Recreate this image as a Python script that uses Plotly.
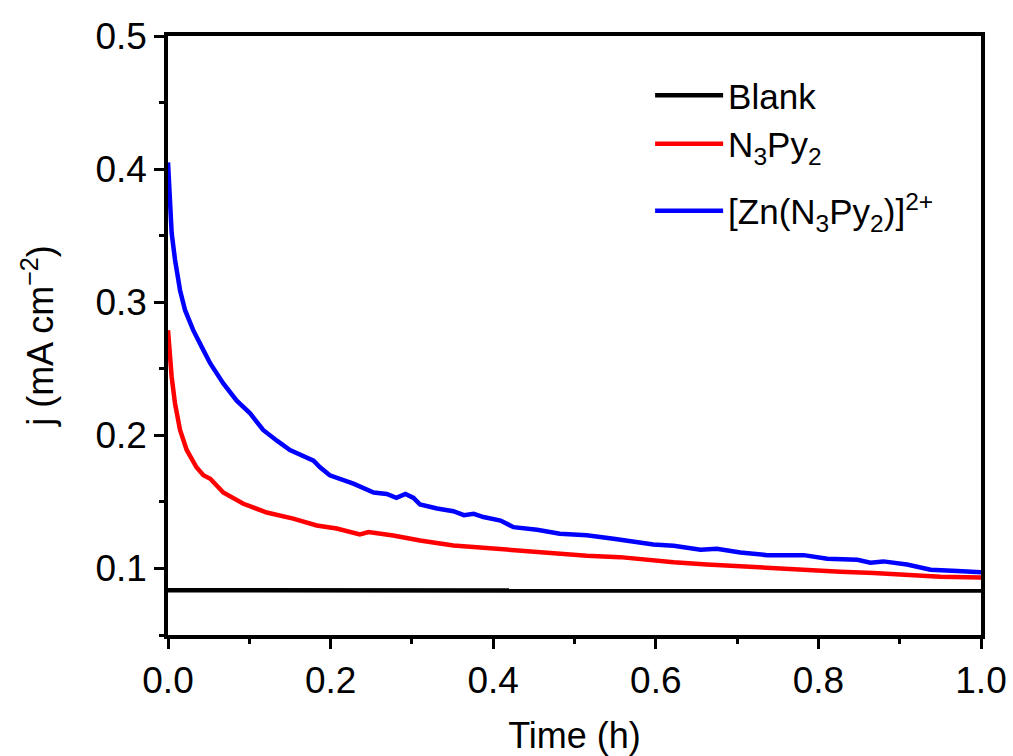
import plotly.graph_objects as go

# ---- data ----
blank_t = [0.0, 0.25, 0.5, 0.75, 1.0]
blank_j = [0.0836, 0.0835, 0.0835, 0.0834, 0.0834]

n3py2_t = [0.0, 0.0045, 0.0086, 0.0148, 0.023, 0.035, 0.0435, 0.052, 0.068, 0.0927,
           0.1215, 0.154, 0.183, 0.2075, 0.236, 0.2466, 0.277, 0.310, 0.351, 0.392,
           0.433, 0.474, 0.515, 0.556, 0.597, 0.622, 0.663, 0.704, 0.745, 0.786,
           0.827, 0.868, 0.909, 0.950, 1.0]
n3py2_j = [0.279, 0.244, 0.224, 0.204, 0.189, 0.176, 0.170, 0.1674, 0.157, 0.1486,
           0.142, 0.1374, 0.1323, 0.130, 0.1256, 0.1273, 0.1248, 0.121, 0.1173, 0.1153,
           0.113, 0.111, 0.1095, 0.1085, 0.106, 0.1047, 0.103, 0.1015, 0.0998, 0.0985,
           0.0975, 0.0965, 0.0953, 0.0937, 0.0932]

zn_t = [0.0, 0.0045, 0.0086, 0.0148, 0.021, 0.031, 0.0435, 0.052, 0.068, 0.0845,
        0.101, 0.117, 0.134, 0.150, 0.179, 0.187, 0.199, 0.228, 0.253, 0.269,
        0.281, 0.292, 0.302, 0.310, 0.331, 0.351, 0.364, 0.376, 0.388, 0.409,
        0.425, 0.454, 0.482, 0.515, 0.548, 0.575, 0.597, 0.622, 0.655, 0.675,
        0.704, 0.737, 0.782, 0.811, 0.848, 0.864, 0.880, 0.909, 0.938, 0.971, 1.0]
zn_j = [0.405, 0.352, 0.332, 0.309, 0.294, 0.279, 0.264, 0.254, 0.239, 0.226,
        0.2165, 0.204, 0.196, 0.189, 0.181, 0.176, 0.170, 0.1637, 0.157, 0.156,
        0.153, 0.156, 0.153, 0.148, 0.145, 0.143, 0.140, 0.141, 0.1386, 0.136,
        0.131, 0.129, 0.126, 0.125, 0.1223, 0.1195, 0.118, 0.117, 0.114, 0.1148,
        0.112, 0.110, 0.110, 0.1073, 0.1065, 0.1043, 0.1053, 0.103, 0.099, 0.098, 0.0972]

series_names = ["Blank", "N<sub>3</sub>Py<sub>2</sub>",
                "[Zn(N<sub>3</sub>Py<sub>2</sub>)]<sup>2+</sup>"]
series_colors = ["#000000", "#FF0000", "#0000FF"]
series_legends = ["legend", "legend", "legend2"]

FONT = "Arial, Liberation Sans, sans-serif"

fig = go.Figure()
for t, j, name, col, lg in zip([blank_t, n3py2_t, zn_t], [blank_j, n3py2_j, zn_j],
                               series_names, series_colors, series_legends):
    fig.add_trace(go.Scatter(x=t, y=j, mode="lines", name=name, legend=lg,
                             line=dict(color=col, width=4.5)))

axis_common = dict(
    showline=True, linecolor="black", linewidth=3.5, mirror=True,
    ticks="outside", ticklen=10, tickwidth=3, tickcolor="black",
    showgrid=False, zeroline=False, automargin=False,
    tickfont=dict(family=FONT, size=37, color="black"),
    minor=dict(ticks="outside", ticklen=5, tickwidth=3, tickcolor="black", showgrid=False),
)

fig.update_xaxes(range=[0, 1.0], tick0=0, dtick=0.2, tickformat=".1f",
                 minor_dtick=0.1,
                 title=dict(text="Time (h)", font=dict(family=FONT, size=36, color="black"),
                            standoff=28),
                 **axis_common)
fig.update_yaxes(range=[0.05, 0.5], tick0=0.1, dtick=0.1, tickformat=".1f",
                 minor_dtick=0.05, minor_tick0=0.05,
                 title=dict(text="j (mA cm<sup>\u22122</sup>)",
                            font=dict(family=FONT, size=36, color="black"),
                            standoff=32),
                 **axis_common)

legend_style = dict(xanchor="left", yanchor="top", bgcolor="rgba(0,0,0,0)",
                    font=dict(family=FONT, size=35, color="black"),
                    tracegroupgap=0, itemwidth=68)

fig.update_layout(
    width=1013, height=756,
    margin=dict(l=168, r=32, t=36, b=121),
    plot_bgcolor="white", paper_bgcolor="white",
    font=dict(family=FONT, color="black"),
    legend=dict(x=0.593, y=0.95, **legend_style),
    legend2=dict(x=0.593, y=0.757, **legend_style),
    showlegend=True,
)

fig.write_html("out.html")
